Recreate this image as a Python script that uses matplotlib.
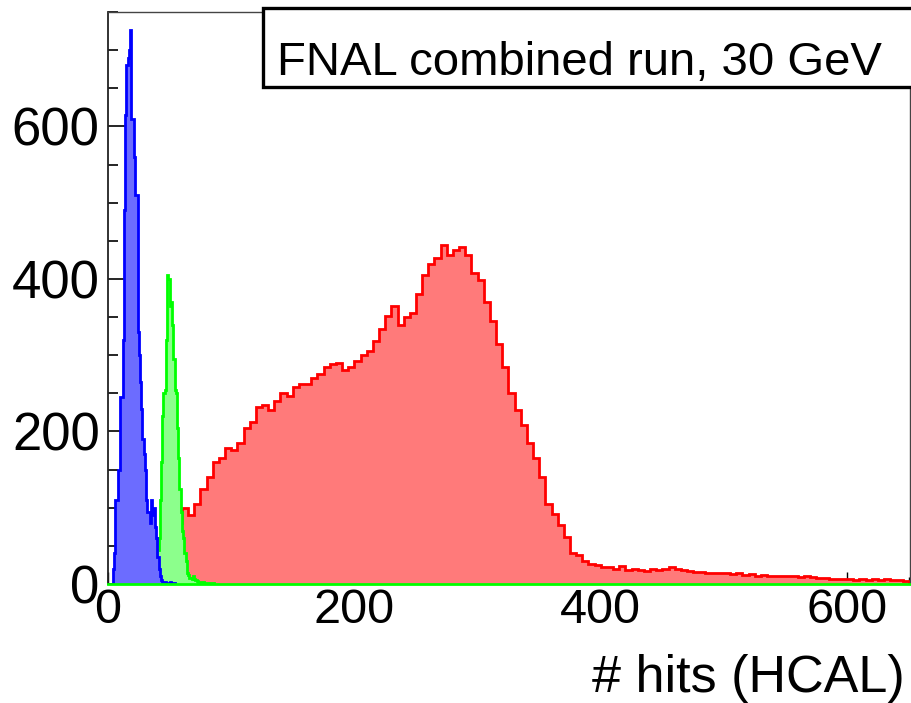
import numpy as np
import matplotlib
matplotlib.use("Agg")
import matplotlib.pyplot as plt
from matplotlib.patches import Rectangle
from matplotlib.ticker import MultipleLocator

plt.rcParams['font.family'] = ['Liberation Sans', 'DejaVu Sans']

# ---------------- data ----------------
# blue histogram: 1-unit bins starting at x = 4
blue_start, blue_width = 4, 1
blue_counts = [20, 40, 110, 110, 150, 150, 245, 245, 320, 490,
               615, 680, 690, 700, 726, 610, 610, 560, 510, 510,
               330, 300, 265, 230, 190, 170, 150, 110, 95, 95,
               80, 110, 90, 100, 75, 60, 35, 20, 10, 5,
               3, 2, 2, 1, 1, 1, 2, 1, 1, 1]

# green histogram: 1-unit bins starting at x = 36
green_start, green_width = 36, 1
green_counts = [3, 8, 15, 25, 45, 60, 110, 160, 220, 250,
                255, 320, 405, 400, 365, 370, 340, 295, 255, 250,
                205, 165, 125, 95, 70, 60, 40, 30, 15, 12,
                8, 8, 6, 10, 6, 5, 4, 3, 3, 2,
                2, 2, 1, 1, 1, 1, 1, 1, 1, 1]

# red histogram: 5-unit bins starting at x = 35
red_start, red_width = 35, 5
red_counts = [10, 35, 50, 65, 80, 100, 90, 105, 125, 140,
              160, 165, 178, 176, 185, 205, 212, 232, 235, 228,
              240, 250, 246, 258, 262, 262, 270, 275, 284, 289,
              290, 280, 284, 292, 300, 306, 318, 335, 352, 365,
              340, 350, 355, 380, 405, 420, 428, 445, 432, 438,
              442, 432, 408, 398, 370, 345, 315, 285, 250, 228,
              208, 185, 165, 140, 105, 92, 78, 62, 40, 38,
              30, 26, 25, 22, 22, 20, 24, 18, 20, 18,
              17, 20, 18, 20, 22, 20, 19, 17, 16, 16,
              15, 14, 15, 14, 13, 14, 12, 13, 11, 12,
              11, 10, 11, 10, 10, 9, 10, 9, 8, 8,
              7, 6, 7, 6, 5, 6, 5, 6, 5, 6,
              5, 5, 4]

x_major_ticks = [0, 200, 400, 600]
y_major_ticks = [0, 200, 400, 600]
legend_text = "FNAL combined run, 30 GeV"
x_title = "# hits (HCAL)"

# ---------------- figure ----------------
W, H = 912, 703
fig = plt.figure(figsize=(W / 100, H / 100), dpi=100)
ax = fig.add_axes([108 / W, 1 - 584 / H, (910 - 108) / W, (584 - 12) / H])

def edges_for(start, width, counts):
    return start + width * np.arange(len(counts) + 1)

series = [
    (red_counts, red_start, red_width, '#ff0000', '#ff7a7a'),
    (green_counts, green_start, green_width, '#00ff00', '#8cff8c'),
    (blue_counts, blue_start, blue_width, '#0000ff', '#6c6cff'),
]
for z, (cnt, st, wd, lc, fc) in enumerate(series):
    e = edges_for(st, wd, cnt)
    ax.stairs(cnt, e, fill=True, color=fc, zorder=2 + 2 * z, linewidth=0)
    ax.stairs(cnt, e, color=lc, linewidth=2.0, zorder=3 + 2 * z)

ax.set_xlim(0, 651)
ax.set_ylim(0, 750)

ax.xaxis.set_major_locator(MultipleLocator(200))
ax.xaxis.set_minor_locator(MultipleLocator(50))
ax.yaxis.set_major_locator(MultipleLocator(200))
ax.yaxis.set_minor_locator(MultipleLocator(50))
ax.set_xticks(x_major_ticks)
ax.set_yticks(y_major_ticks)

ax.tick_params(axis='x', which='major', direction='in', length=9, width=1.0,
               labelsize=35, pad=3, top=False)
ax.tick_params(axis='x', which='minor', direction='in', length=5, width=1.0, top=False)
ax.tick_params(axis='y', which='major', direction='in', length=13, width=1.2,
               labelsize=38, pad=6, right=False)
ax.tick_params(axis='y', which='minor', direction='in', length=7.5, width=1.2, right=False)

for s in ['top', 'right']:
    ax.spines[s].set_color('#444444')
    ax.spines[s].set_linewidth(1.0)
ax.spines['left'].set_color('#222222')
ax.spines['left'].set_linewidth(1.3)
ax.spines['bottom'].set_color('#00ff00')
ax.spines['bottom'].set_linewidth(2.0)
for s in ax.spines.values():
    s.set_zorder(10)

# x-axis title, right aligned (ROOT style)
fig.text(905 / W, 1 - 692 / H, x_title, ha='right', va='baseline', fontsize=37.5)

# legend / title box
box = Rectangle((263 / W, 1 - 87 / H), 0.72, 79 / H, transform=fig.transFigure,
                facecolor='white', edgecolor='black', linewidth=2.4, zorder=20,
                clip_on=False)
fig.add_artist(box)
fig.text(277 / W, 1 - 75 / H, legend_text, ha='left', va='baseline',
         fontsize=34, zorder=21)

fig.savefig('out.png', dpi=100)
